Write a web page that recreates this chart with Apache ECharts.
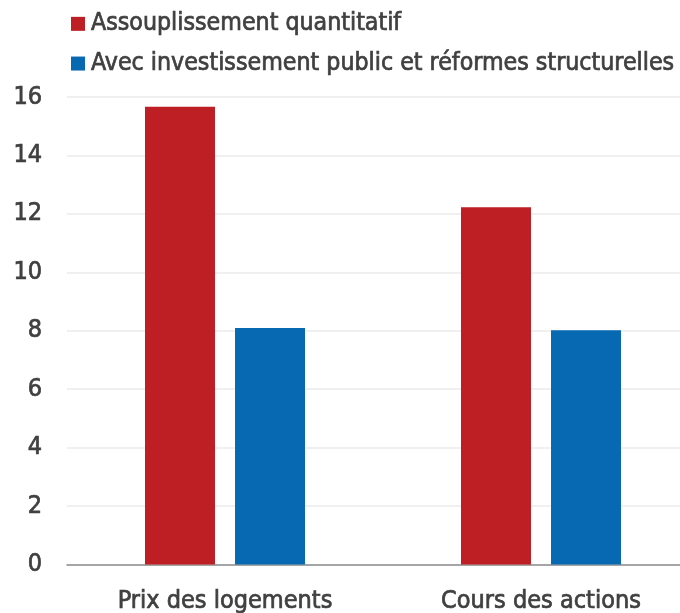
<!DOCTYPE html>
<html>
<head>
<meta charset="utf-8">
<script src="https://cdn.jsdelivr.net/npm/echarts@6/dist/echarts.min.js"></script>
<style>
  html, body { margin: 0; padding: 0; background: #fff; }
  #chart { width: 680px; height: 613px; }
</style>
</head>
<body>
<div id="chart"></div>
<script>
  const categories = ["Prix des logements", "Cours des actions"];
  const seriesNames = [
    "Assouplissement quantitatif",
    "Avec investissement public et réformes structurelles",
  ];
  const qeValues = [15.67, 12.23];
  const publicValues = [8.09, 8.02];
  const yTicks = [0, 2, 4, 6, 8, 10, 12, 14, 16];

  const font = "'Liberation Sans Narrow', 'DejaVu Sans Condensed', sans-serif";
  const textColor = "#404040";
  // slight stroke to thicken the condensed face a little
  const thick = { textBorderColor: textColor, textBorderWidth: 0.7 };

  const chart = echarts.init(document.getElementById("chart"));
  chart.setOption({
    animation: false,
    textStyle: { fontFamily: font },
    legend: {
      orient: "vertical",
      left: 66,
      top: 6,
      itemWidth: 14,
      itemHeight: 14,
      itemGap: 14,
      icon: "rect",
      textStyle: Object.assign({ fontSize: 24.7, color: textColor, fontFamily: font, padding: [0, 0, 0, 1] }, thick),
      data: seriesNames,
    },
    grid: {
      left: 67,
      top: 97,
      width: 632,
      bottom: 48.5,
      outerBoundsMode: "none",
      containLabel: false,
    },
    xAxis: {
      type: "category",
      data: categories,
      axisLine: { lineStyle: { color: "#8c8c8c", width: 1.5 } },
      axisTick: { show: false },
      axisLabel: Object.assign({ fontSize: 25, color: textColor, margin: 24, fontFamily: font }, thick),
    },
    yAxis: {
      type: "value",
      min: yTicks[0],
      max: yTicks[yTicks.length - 1],
      interval: 2,
      axisLine: { show: false },
      axisTick: { show: false },
      splitLine: { lineStyle: { color: "#ebebeb", width: 1.5 } },
      axisLabel: Object.assign({ fontSize: 25, color: textColor, margin: 25, fontFamily: font }, thick),
    },
    series: [
      {
        name: seriesNames[0],
        type: "bar",
        data: qeValues,
        barWidth: 70,
        barGap: "28.6%",
        itemStyle: { color: "#bd1f25" },
      },
      {
        name: seriesNames[1],
        type: "bar",
        data: publicValues,
        barWidth: 70,
        itemStyle: { color: "#0669b2" },
      },
    ],
  });
</script>
</body>
</html>
